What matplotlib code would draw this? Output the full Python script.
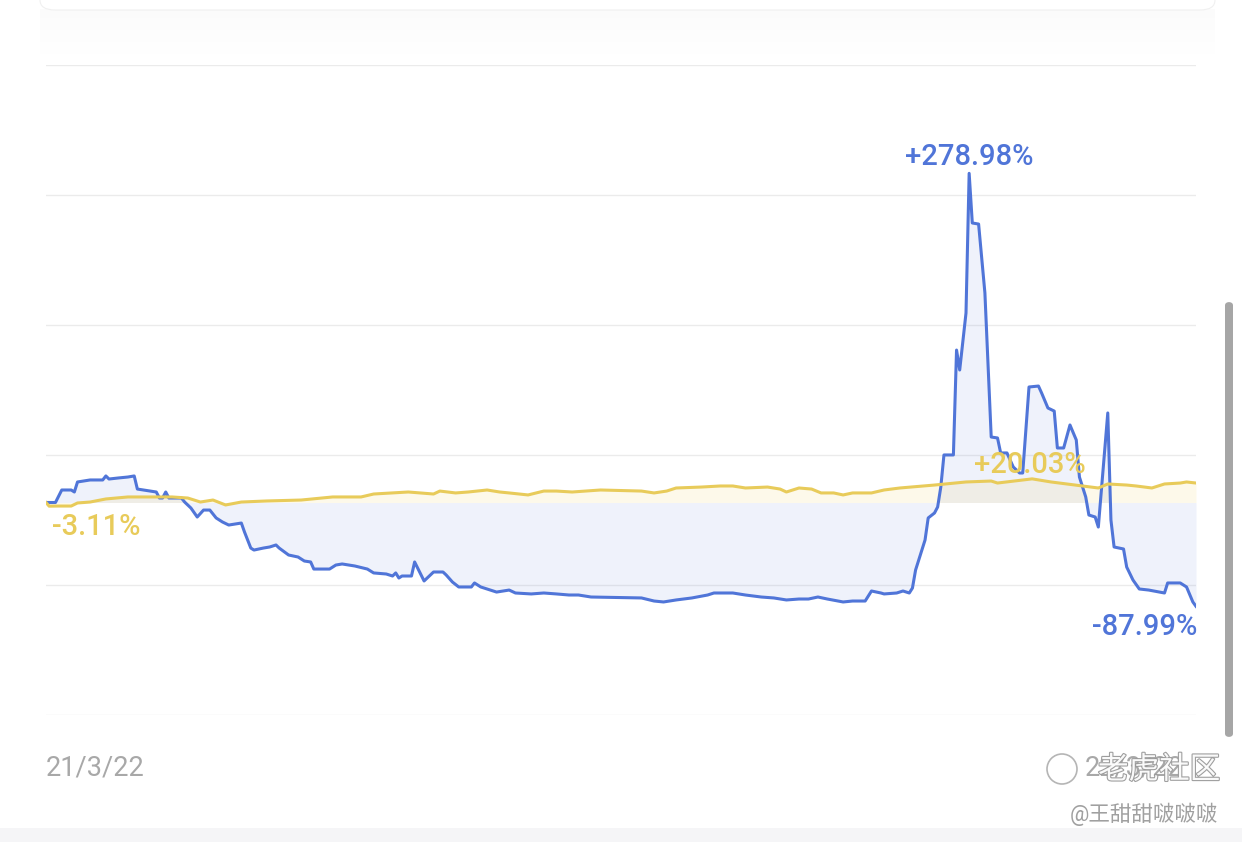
import numpy as np
import matplotlib
matplotlib.use("Agg")
import matplotlib.pyplot as plt
from matplotlib.patches import FancyBboxPatch, Rectangle, Ellipse
import matplotlib.patheffects as pe

plt.rcParams['font.family'] = ['Roboto', 'Noto Sans CJK SC', 'DejaVu Sans']

# days since 21/3/22 and cumulative return (%)
blue_days = [0, 3, 5, 8, 9, 10, 14, 18, 19, 20, 23, 26, 28, 29, 33, 35, 36, 37, 38, 39,
             43, 44, 46, 48, 50, 52, 54, 56, 58, 62, 63, 65, 66, 69, 71, 73, 74, 77, 80, 82,
             84, 85, 90, 92, 94, 98, 102, 104, 108, 110, 111, 112, 113, 116, 117, 120, 123, 126, 127, 129,
             131, 135, 136, 138, 141, 143, 147, 149, 154, 158, 162, 166, 169, 173, 189, 193, 196, 200, 205, 210,
             212, 218, 222, 227, 231, 235, 239, 242, 245, 248, 253, 256, 260, 262, 265, 266, 270, 272, 274, 275,
             276, 279, 280, 282, 283, 284, 285, 288, 289, 290, 292, 293, 294, 296, 298, 300, 302, 303, 305, 307,
             309, 310, 312, 315, 316, 318, 320, 321, 323, 325, 327, 328, 330, 331, 333, 334, 337, 338, 339, 342,
             343, 345, 347, 350, 355, 356, 360, 362, 364, 365]
blue_vals = [0.0, 0.0, 10.6, 10.6, 8.9, 17.4, 19.1, 19.1, 22.5, 19.9, 20.8, 21.6, 22.5, 11.4, 9.7, 8.9, 3.8, 3.8, 8.9, 3.8,
             3.8, 0.4, -4.7, -12.3, -6.4, -6.4, -13.1, -16.5, -19.1, -17.4, -25.0, -38.6, -40.3, -38.6, -37.7, -36.0, -38.6, -44.5, -46.2, -49.6,
             -50.4, -56.4, -56.4, -53.0, -52.1, -53.8, -56.4, -59.7, -60.6, -62.3, -59.7, -64.0, -62.3, -62.3, -50.4, -66.5, -58.9, -58.9, -61.4, -67.4,
             -71.6, -71.6, -68.2, -71.6, -74.2, -75.9, -74.2, -76.7, -77.5, -76.7, -77.5, -78.4, -78.4, -80.1, -80.9, -83.5, -84.3, -82.6, -80.9, -78.4,
             -76.7, -76.7, -78.4, -80.1, -80.9, -82.6, -81.8, -81.8, -80.1, -81.8, -84.3, -83.5, -83.5, -75.0, -76.7, -77.5, -76.7, -75.0, -76.7, -72.5,
             -57.2, -31.8, -13.1, -8.9, -3.8, 13.1, 40.3, 40.3, 129.2, 112.3, 160.6, 278.98, 236.9, 236.0, 177.6, 55.5, 54.7, 42.0, 42.0, 30.1,
             25.0, 25.0, 97.9, 98.7, 92.8, 80.1, 77.5, 46.2, 46.2, 65.7, 53.0, 21.6, 4.7, -10.6, -12.3, -20.8, 75.9, -14.8, -37.7, -39.4,
             -54.7, -65.7, -73.3, -74.2, -76.7, -68.2, -68.2, -71.6, -84.3, -87.99]

yellow_days = [0, 1, 4, 8, 10, 14, 19, 26, 30, 33, 36, 40, 45, 49, 53, 57, 62, 70, 81, 91,
               100, 104, 115, 123, 125, 130, 134, 140, 144, 147, 153, 158, 162, 167, 176, 189, 193, 197, 200, 208,
               214, 218, 222, 229, 233, 235, 239, 243, 246, 250, 253, 256, 262, 266, 271, 282, 292, 300, 302, 313,
               319, 324, 329, 334, 337, 343, 346, 351, 355, 360, 362, 365]
yellow_vals = [0.0, -3.11, -3.0, -3.0, -0.4, 0.4, 3.0, 4.7, 4.7, 4.7, 4.7, 4.7, 3.8, 0.4, 2.1, -2.1, 0.4, 1.3, 2.1, 4.7,
               4.7, 7.2, 8.9, 7.2, 9.7, 8.1, 8.9, 10.6, 8.9, 8.1, 6.4, 9.7, 9.7, 8.9, 10.6, 9.7, 8.1, 9.7, 12.3, 13.1,
               14.0, 14.0, 12.3, 13.1, 11.4, 8.9, 12.3, 11.4, 8.1, 8.1, 6.4, 8.1, 8.1, 10.6, 12.3, 14.8, 17.4, 18.2, 16.5, 20.03,
               17.4, 15.7, 14.0, 12.3, 15.7, 14.8, 14.0, 12.3, 15.7, 16.5, 17.4, 16.5]

start_label = "21/3/22"
end_label = "22/3/22"

BLUE = "#5075d8"
YELLOW = "#e8cb5a"

fig = plt.figure(figsize=(12.42, 8.42), dpi=100)
W, H = 1242, 842

# top card with shadow
for i in range(16):
    fig.patches.append(Rectangle((40 / W, (H - 12 - i * 3) / H), 1175 / W, 3 / H,
                                 transform=fig.transFigure, color="#000000",
                                 alpha=0.016 * (1 - i / 16), lw=0))
fig.patches.append(FancyBboxPatch((40 / W, (H - 10) / H), 1175 / W, 30 / H,
                                  boxstyle="round,pad=0,rounding_size=0.012",
                                  transform=fig.transFigure, fc="white", ec="#f0f0f0", lw=0.8))
# bottom band
fig.patches.append(Rectangle((0, 0), 1, 14 / H, transform=fig.transFigure,
                             color="#f5f5f7", lw=0))
# scrollbar
fig.patches.append(FancyBboxPatch((1225 / W, (H - 737) / H), 8 / W, 435 / H,
                                  boxstyle="round,pad=0,rounding_size=0.004",
                                  transform=fig.transFigure, fc="#a6a6a6", ec="none"))

ax = fig.add_axes([46 / W, (H - 715) / H, 1150 / W, 650 / H])
ymin, ymax = -180.1, 370.8
ax.set_xlim(0, 365)
ax.set_ylim(ymin, ymax)
for yv in np.linspace(ymin, ymax, 6):
    ax.axhline(yv, color="#ebebeb", lw=1, zorder=0)

ax.fill_between(blue_days, blue_vals, 0, color=BLUE, alpha=0.09, lw=0, zorder=1)
ax.fill_between(yellow_days, yellow_vals, 0, color="#f2d35e", alpha=0.13, lw=0, zorder=2)
ax.plot(blue_days, blue_vals, color=BLUE, lw=2.2, zorder=3, solid_joinstyle="round")
ax.plot(yellow_days, yellow_vals, color=YELLOW, lw=2.2, zorder=4, solid_joinstyle="round")

for s in ax.spines.values():
    s.set_visible(False)
ax.set_xticks([])
ax.set_yticks([])

# max / min labels
bmax = int(np.argmax(blue_vals))
bmin = int(np.argmin(blue_vals))
ymx = int(np.argmax(yellow_vals))
ymn = int(np.argmin(yellow_vals))
lab = dict(textcoords="offset points", fontsize=21, fontweight="medium", zorder=6)
ax.annotate(f"+{blue_vals[bmax]:.2f}%", (blue_days[bmax], blue_vals[bmax]),
            xytext=(0, 2), ha="center", va="bottom", color=BLUE, **lab)
ax.annotate(f"{blue_vals[bmin]:.2f}%", (blue_days[bmin], blue_vals[bmin]),
            xytext=(1, -5), ha="right", va="top", color=BLUE, **lab)
ax.annotate(f"+{yellow_vals[ymx]:.2f}%", (yellow_days[ymx], yellow_vals[ymx]),
            xytext=(-2, 0), ha="center", va="bottom", color=YELLOW, **lab)
ax.annotate(f"{yellow_vals[ymn]:.2f}%", (yellow_days[ymn], yellow_vals[ymn]),
            xytext=(2, -5), ha="left", va="top", color=YELLOW, **lab)

# date labels
fig.text(46 / W, (H - 768) / H, start_label, ha="left", va="center",
         color="#a8a8a8", fontsize=19.5)
fig.text(1183 / W, (H - 768) / H, end_label, ha="right", va="center",
         color="#a8a8a8", fontsize=19.5)

# watermark
fig.text(1220 / W, (H - 770) / H, "老虎社区", ha="right", va="center",
         color="white", fontsize=22, alpha=0.95,
         path_effects=[pe.withStroke(linewidth=1.6, foreground="#9a9a9a")])
fig.patches.append(Ellipse((1062 / W, (H - 769) / H), 30 / W, 30 / H, transform=fig.transFigure,
                           fill=False, ec="#b5b5b5", lw=1.2))
fig.text(1218 / W, (H - 814) / H, "@王甜甜啵啵啵", ha="right", va="center",
         color="#a0a0a0", fontsize=15.5)

fig.savefig("out.png", dpi=100, facecolor="white")
